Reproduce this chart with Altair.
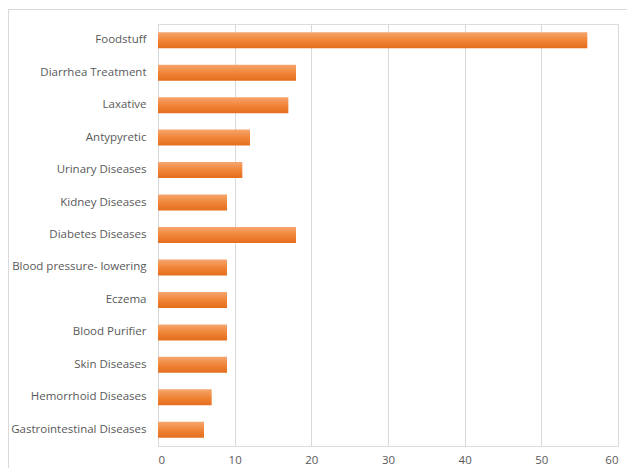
import altair as alt
import pandas as pd

categories = [
    "Foodstuff", "Diarrhea Treatment", "Laxative", "Antypyretic",
    "Urinary Diseases", "Kidney Diseases", "Diabetes Diseases",
    "Blood pressure- lowering", "Eczema", "Blood Purifier",
    "Skin Diseases", "Hemorrhoid Diseases", "Gastrointestinal Diseases",
]
values = [56, 18, 17, 12, 11, 9, 18, 9, 9, 9, 9, 7, 6]
x_ticks = [0, 10, 20, 30, 40, 50, 60]

df = pd.DataFrame({"category": categories, "value": values})

FONT = "Open Sans"
GRAY = "#595959"

bars = alt.Chart(df).mark_bar(
    size=16,
    color=alt.Gradient(
        gradient="linear",
        stops=[
            alt.GradientStop(color="#f6a66f", offset=0),
            alt.GradientStop(color="#f08538", offset=0.5),
            alt.GradientStop(color="#e46d1d", offset=1),
        ],
        x1=0, x2=0, y1=0, y2=1,
    ),
).encode(
    x=alt.X(
        "value:Q",
        scale=alt.Scale(domain=[0, 60], nice=False),
        axis=alt.Axis(
            values=x_ticks, title=None, domain=False, ticks=False,
            grid=True, gridColor="#d9d9d9", labelPadding=8,
            labelFont=FONT, labelFontSize=11.5, labelColor=GRAY,
        ),
    ),
    y=alt.Y(
        "category:N",
        sort=categories,
        scale=alt.Scale(paddingInner=0.5, paddingOuter=0.25),
        axis=alt.Axis(
            title=None, domain=False, ticks=False, grid=False,
            labelPadding=12, labelFont=FONT, labelFontSize=11.5,
            labelColor=GRAY, labelLimit=200,
        ),
    ),
)

frame = alt.Chart(df).mark_rect(
    fill=None, stroke="#d9d9d9", strokeWidth=1
).encode(
    x=alt.value(-149.5), x2=alt.value(490),
    y=alt.value(-14.5), y2=alt.value(490),
)

chart = alt.layer(frame, bars).properties(
    width=460, height=422,
    autosize=alt.AutoSizeParams(type="none"),
    padding={"left": 150, "top": 16, "right": 9, "bottom": 22},
).configure_view(stroke=None).configure(background="white")

chart.save("out.html", embed_options={"renderer": "svg", "actions": False})
